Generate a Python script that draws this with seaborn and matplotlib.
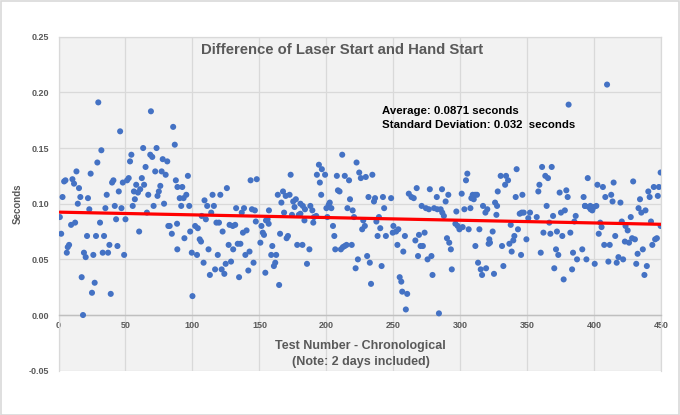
import numpy as np
import pandas as pd
import matplotlib
matplotlib.use("Agg")
import matplotlib.pyplot as plt
import seaborn as sns

# ---------------- data ----------------
test_number = [
    # 0-50
    29.7, 46, 32, 29, 13.4, 24, 4.2, 5.2, 10.4, 11.6, 15.3, 41, 40, 48, 45, 36, 3, 16.3, 22, 14.4,
    23, 35, 42, 47, 1, 31, 43, 50, 9.4, 12.4, 2, 21.3, 28, 34, 7.9, 6.9, 6.2, 38, 44, 33,
    37, 19, 20.3, 26, 49, 17.3, 27, 25, 39, 18.3,
    # 50-100
    69, 85.6, 86.8, 63.2, 73.2, 54.4, 68.5, 70, 53.4, 77.8, 81.2, 65, 72.2, 77, 80, 96.6, 52.4, 51.2,
    62.2, 87.6, 58, 63.9, 61, 76, 56.3, 59.3, 88.8, 92.4, 74.9, 73.9, 67, 95.4, 90.5, 93.4, 57, 55.4,
    71, 78.8, 91.6, 97.6, 66, 82, 83, 88.5, 84.6, 60.2, 98.3, 94, 88.7, 99.5, 100,
    # 100-150
    109, 115, 120.8, 125.7, 143.4, 148, 111, 116, 114, 106.9, 110, 132.6, 138.5, 136.8, 144.4, 146.6,
    102, 104, 117.9, 119.8, 127.7, 130.1, 131.9, 122.5, 137.7, 140.4, 147.3, 105.4, 106.4, 112, 103.4,
    118.9, 127, 130.4, 133.8, 135.8, 139.5, 142.6, 108.3, 128.8, 124.8, 116.9, 121.8, 113, 123.8,
    141.7, 145.6, 134.8,
    # 150-200
    173.3, 163.7, 167.6, 169.6, 172.5, 166.4, 175.2, 177.2, 176.2, 180.6, 182.4, 184, 188, 189.5,
    194.4, 196.6, 192.9, 195.1, 196.1, 157.1, 168.4, 174.3, 179.4, 180.6, 192.4, 190.7, 154.9, 156.1,
    183.6, 190.2, 151.5, 156.9, 152.5, 153.4, 165.4, 171.3, 170.3, 150.7, 159.6, 178.2, 182.1, 187.3,
    158.8, 162.5, 161.8, 160.8, 154.4, 185.5, 164.7,
    # 200-245
    199, 211.8, 222.5, 224.5, 225.7, 229.4, 234.3, 207.8, 213.7, 216.9, 208.6, 209.8, 217.6, 231.4,
    236.3, 235.5, 242.2, 202.5, 201.7, 203.7, 200, 215.7, 219.6, 220.6, 200.7, 243.1, 227.5, 226.7,
    228.7, 237.3, 239.2, 240.2, 204.9, 205.9, 238.2, 244.4, 206.6, 210.8, 212.3, 213.7, 215, 218.9,
    223.5, 221.8, 230.4, 232.4, 241.2, 233.3,
    # 245-295
    248.3, 250, 249.5, 252, 253.7, 253, 257.4, 258.6, 254.7, 255.9, 256.6, 260.3, 259.3, 261.5, 263.5,
    265.2, 267.4, 277.2, 286.3, 282.4, 289, 291, 271.1, 274.3, 276.5, 280.4, 282.8, 285.3, 286.5,
    287.7, 273.3, 269.1, 266.4, 270.3, 272, 268.4, 275.5, 278.4, 279.2, 290, 291.7, 292.9, 293.6, 284,
    # 295-340
    297, 296.3, 298, 299.3, 301.7, 301, 305.2, 304.2, 303, 307.5, 306.2, 308.2, 309.2, 311, 312.4,
    310, 314.2, 311.2, 313.2, 315.2, 316.2, 319.2, 316.9, 320.1, 318.7, 325.9, 327.4, 326.9, 327.9,
    324.1, 321.1, 322.1, 321.6, 325.1, 330.1, 334.1, 335.6, 333.4, 337.6, 331.1, 332.1, 336.6, 338.3,
    # 340-393
    342, 341.3, 346.3, 344.3, 345.8, 347.3, 343, 340.3, 339.5, 349.3, 345.3, 352, 350.7, 357, 358.2,
    359, 361, 363.4, 365.4, 368.2, 364.4, 362, 367.2, 360, 366.4, 369.2, 370.1, 372.1, 373.1, 371.4,
    374.1, 375.1, 378, 376.1, 377.1, 379.1, 380.1, 380.8, 382.1, 383.4, 384.1, 387.1, 385.1, 386.1,
    391, 392, 393,
    # 393-450
    409.5, 395.1, 402.3, 406.4, 414.4, 429, 408.2, 412.6, 413.6, 419.5, 434.1, 440.3, 441.3, 444.4,
    448.2, 447.4, 449.5, 393.1, 395.9, 397.2, 398.5, 399.7, 401.5, 397, 404.4, 405.4, 403.3, 420.5,
    427.2, 433, 435.1, 438.2, 442.3, 449.5, 423.3, 424.9, 415.6, 422.8, 425.9, 428.2, 430.3, 407.4,
    411.5, 432.3, 436.2, 443.3, 445.4, 446.7, 394.1, 400.3, 410.5, 416.7, 418, 421.5, 431.3, 439.2,
    437.4,
]
difference_s = [
    # 0-50
    0.191, 0.165, 0.148, 0.137, 0.129, 0.127, 0.120, 0.121, 0.122, 0.118, 0.114, 0.121, 0.119, 0.119,
    0.111, 0.108, 0.106, 0.106, 0.105, 0.100, 0.095, 0.096, 0.098, 0.096, 0.088, 0.083, 0.086, 0.086,
    0.081, 0.083, 0.073, 0.071, 0.071, 0.071, 0.063, 0.061, 0.056, 0.063, 0.062, 0.056, 0.056, 0.056,
    0.052, 0.054, 0.054, 0.034, 0.029, 0.020, 0.019, 0.000,
    # 50-100
    0.183, 0.169, 0.153, 0.150, 0.150, 0.144, 0.144, 0.142, 0.138, 0.140, 0.138, 0.133, 0.129, 0.129,
    0.126, 0.125, 0.123, 0.121, 0.123, 0.121, 0.117, 0.117, 0.113, 0.116, 0.111, 0.110, 0.115, 0.115,
    0.111, 0.107, 0.108, 0.108, 0.105, 0.105, 0.104, 0.098, 0.098, 0.100, 0.098, 0.098, 0.092, 0.080,
    0.080, 0.082, 0.073, 0.075, 0.075, 0.069, 0.059, 0.056, 0.017,
    # 100-150
    0.103, 0.108, 0.108, 0.114, 0.121, 0.122, 0.098, 0.098, 0.092, 0.089, 0.086, 0.096, 0.096, 0.092,
    0.095, 0.094, 0.080, 0.078, 0.083, 0.083, 0.081, 0.080, 0.081, 0.075, 0.074, 0.076, 0.084, 0.068,
    0.066, 0.059, 0.054, 0.054, 0.063, 0.059, 0.064, 0.064, 0.054, 0.057, 0.047, 0.048, 0.046, 0.041,
    0.041, 0.036, 0.037, 0.040, 0.047, 0.034,
    # 150-200
    0.126, 0.108, 0.111, 0.107, 0.108, 0.101, 0.102, 0.104, 0.097, 0.100, 0.098, 0.095, 0.098, 0.094,
    0.135, 0.131, 0.126, 0.119, 0.108, 0.094, 0.092, 0.090, 0.090, 0.091, 0.089, 0.088, 0.085, 0.086,
    0.085, 0.083, 0.080, 0.082, 0.074, 0.072, 0.073, 0.071, 0.069, 0.065, 0.062, 0.063, 0.063, 0.059,
    0.054, 0.054, 0.047, 0.044, 0.038, 0.046, 0.027,
    # 200-245
    0.126, 0.144, 0.137, 0.128, 0.123, 0.124, 0.126, 0.125, 0.125, 0.121, 0.112, 0.111, 0.104, 0.106,
    0.105, 0.102, 0.106, 0.101, 0.099, 0.096, 0.096, 0.096, 0.094, 0.088, 0.088, 0.096, 0.085, 0.077,
    0.080, 0.084, 0.088, 0.078, 0.080, 0.071, 0.071, 0.071, 0.059, 0.059, 0.061, 0.062, 0.063, 0.063,
    0.050, 0.042, 0.053, 0.047, 0.044, 0.028,
    # 245-295
    0.105, 0.080, 0.074, 0.075, 0.077, 0.063, 0.057, 0.071, 0.034, 0.030, 0.021, 0.019, 0.005, 0.109,
    0.106, 0.105, 0.114, 0.113, 0.113, 0.106, 0.102, 0.108, 0.098, 0.096, 0.095, 0.096, 0.095, 0.095,
    0.092, 0.089, 0.074, 0.072, 0.067, 0.062, 0.062, 0.053, 0.050, 0.053, 0.036, 0.069, 0.065, 0.059,
    0.041, 0.0015,
    # 295-340
    0.093, 0.082, 0.080, 0.077, 0.079, 0.109, 0.127, 0.121, 0.095, 0.096, 0.077, 0.105, 0.108, 0.108,
    0.108, 0.104, 0.077, 0.062, 0.047, 0.041, 0.036, 0.042, 0.098, 0.095, 0.092, 0.101, 0.098, 0.090,
    0.111, 0.075, 0.064, 0.065, 0.068, 0.037, 0.125, 0.125, 0.121, 0.117, 0.081, 0.062, 0.044, 0.064,
    0.057,
    # 340-393
    0.131, 0.106, 0.108, 0.091, 0.092, 0.092, 0.077, 0.071, 0.067, 0.068, 0.054, 0.092, 0.087, 0.088,
    0.111, 0.117, 0.133, 0.125, 0.123, 0.133, 0.098, 0.074, 0.073, 0.056, 0.083, 0.089, 0.042, 0.075,
    0.054, 0.059, 0.110, 0.092, 0.094, 0.071, 0.032, 0.112, 0.106, 0.189, 0.074, 0.041, 0.056, 0.050,
    0.084, 0.089, 0.059, 0.106, 0.098,
    # 393-450
    0.207, 0.123, 0.117, 0.115, 0.119, 0.120, 0.106, 0.108, 0.102, 0.101, 0.104, 0.111, 0.106, 0.115,
    0.115, 0.107, 0.128, 0.098, 0.097, 0.095, 0.094, 0.097, 0.098, 0.098, 0.083, 0.079, 0.073, 0.084,
    0.088, 0.096, 0.092, 0.094, 0.084, 0.080, 0.080, 0.076, 0.071, 0.066, 0.065, 0.069, 0.068, 0.063,
    0.063, 0.055, 0.059, 0.063, 0.068, 0.069, 0.050, 0.046, 0.048, 0.047, 0.052, 0.050, 0.046, 0.044,
    0.036,
]

chart_title = "Difference of Laser Start and Hand Start"
x_label = "Test Number - Chronological\n(Note: 2 days included)"
y_label = "Seconds"
x_ticks = [0, 50, 100, 150, 200, 250, 300, 350, 400, 450]
y_ticks = [-0.05, 0.00, 0.05, 0.10, 0.15, 0.20, 0.25]
stats_lines = ["Average: 0.0871 seconds", "Standard Deviation: 0.032  seconds"]

# ---------------- style ----------------
sns.set_style("whitegrid")
plt.rcParams["font.family"] = ["Liberation Sans", "DejaVu Sans"]
plt.rcParams["font.weight"] = "bold"

TXT = "#595959"
GRID = "#d9d9d9"

fig = plt.figure(figsize=(6.8, 4.15), dpi=100)
fig.patch.set_facecolor("white")
fig.add_artist(plt.Rectangle((0.001, 0.001), 0.997, 0.996, transform=fig.transFigure,
                             fill=False, edgecolor=GRID, linewidth=1.2))

ax = fig.add_axes([58.5 / 680, (415 - 370.7) / 415, 602.8 / 680, 334 / 415])
ax.set_facecolor("#f2f2f2")

df = pd.DataFrame({"Test Number": test_number, "Seconds": difference_s})
sns.scatterplot(data=df, x="Test Number", y="Seconds", ax=ax, color="#4472c4",
                s=19, edgecolor="none", linewidth=0, zorder=3)
sns.regplot(data=df, x="Test Number", y="Seconds", ax=ax, scatter=False, ci=None,
            color="#ff0000", line_kws={"linewidth": 2.3, "zorder": 4}, truncate=True)

ax.set_xlim(0, 450)
ax.set_ylim(-0.05, 0.25)
ax.set_xticks(x_ticks)
ax.set_xticklabels([str(v) for v in x_ticks])
ax.set_yticks(y_ticks)
ax.set_yticklabels([f"{v:.2f}" for v in y_ticks])
ax.grid(True, color=GRID, linewidth=0.9)
ax.set_axisbelow(True)

for side in ["top", "right", "left"]:
    ax.spines[side].set_color(GRID)
    ax.spines[side].set_linewidth(0.9)
ax.spines["bottom"].set_position(("data", 0))
ax.spines["bottom"].set_color("#bfbfbf")
ax.spines["bottom"].set_linewidth(1.0)
ax.spines["bottom"].set_zorder(2.5)

ax.tick_params(axis="both", length=0, labelsize=6.5, labelcolor=TXT)
ax.tick_params(axis="x", pad=4)
ax.tick_params(axis="y", pad=7)
for lab in ax.get_xticklabels() + ax.get_yticklabels():
    lab.set_fontweight("bold")

ax.set_xlabel(x_label, fontsize=9, color=TXT, fontweight="bold", linespacing=1.35)
ax.xaxis.label.set_va("center")
ax.xaxis.set_label_coords(0.501, 0.050)
ax.set_ylabel(y_label, fontsize=7, color=TXT, fontweight="bold")
ax.yaxis.label.set_va("center")
ax.yaxis.set_label_coords(-0.067, 0.5)

ax.text(0.471, 0.960, chart_title, transform=ax.transAxes, ha="center", va="center",
        fontsize=10.7, fontweight="bold", color=TXT)
ax.text(0.536, 0.778, stats_lines[0], transform=ax.transAxes, ha="left", va="center",
        fontsize=8.2, fontweight="bold", color="black")
ax.text(0.536, 0.735, stats_lines[1], transform=ax.transAxes, ha="left", va="center",
        fontsize=8.2, fontweight="bold", color="black")

fig.savefig("out.png", dpi=100)
